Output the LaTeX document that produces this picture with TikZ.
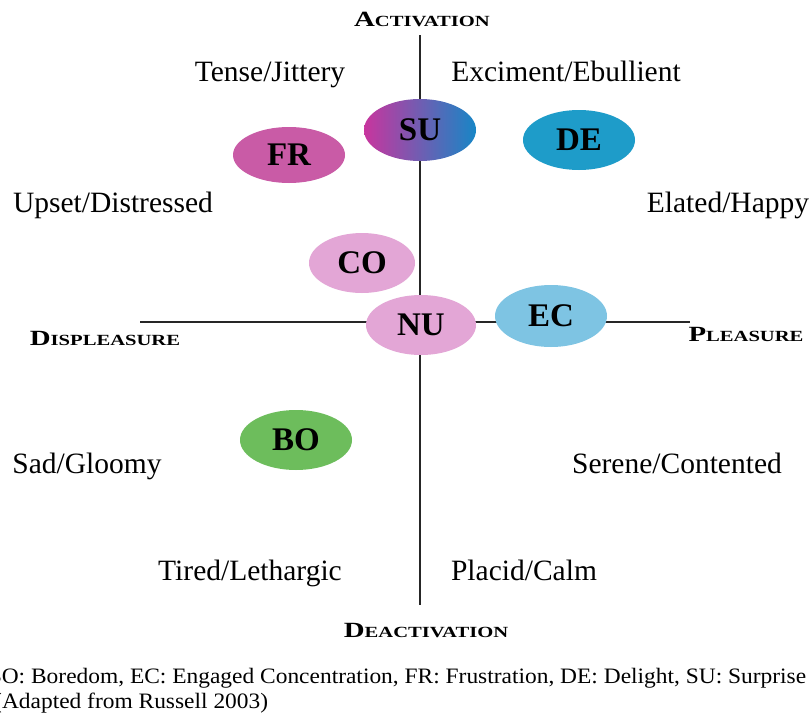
\documentclass[tikz,border=0pt]{standalone}
\usepackage{fontspec}
\setmainfont{Liberation Serif}
\usetikzlibrary{shapes.geometric}
\definecolor{frcol}{HTML}{C95BA6}
\definecolor{decol}{HTML}{1E9CC9}
\definecolor{pinkcol}{HTML}{E3A6D6}
\definecolor{eccol}{HTML}{7EC4E3}
\definecolor{bocol}{HTML}{6DBD5C}
\definecolor{sul}{HTML}{C8359E}
\definecolor{sur}{HTML}{1786C6}
\newcommand\fakesc[2]{\scalebox{1.33}[1]{{\fontsize{21.7}{21.7}\selectfont #1}{\fontsize{15.5}{15.5}\selectfont #2}}}
\begin{document}
\begin{tikzpicture}[x=1pt,y=-1pt,
  emo/.style={ellipse, minimum width=112pt, minimum height=60pt, inner sep=0pt,
    font=\fontsize{33}{33}\selectfont\bfseries},
  lab/.style={anchor=base, inner sep=0pt, font=\fontsize{29.5}{29.5}\selectfont},
  axlab/.style={anchor=base, inner sep=0pt, font=\bfseries},
  axisline/.style={line width=1.5pt, black!85},
  captext/.style={anchor=base west, inner sep=0pt, font=\fontsize{22}{22}\selectfont}]
\useasboundingbox (0,0) rectangle (811,720);
\fill[white] (0,0) rectangle (811,720);
% axes
\coordinate (top) at (420,35);
\coordinate (bottom) at (420,605);
\coordinate (left) at (140,322);
\coordinate (right) at (690,322);
\draw[axisline] (top) -- (bottom);
\draw[axisline] (left) -- (right);
% ellipses
\node[emo, left color=sul, right color=sur, minimum height=62pt] (SU) at (420,130) {SU};
\node[emo, fill=frcol, minimum height=56pt] (FR) at (289,155) {FR};
\node[emo, fill=decol] (DE) at (579,140) {DE};
\node[emo, fill=pinkcol, minimum width=106pt] (CO) at (362,263) {CO};
\node[emo, fill=pinkcol, minimum width=110pt] (NU) at (421,325) {NU};
\node[emo, fill=eccol, minimum height=62pt] (EC) at (551,316) {EC};
\node[emo, fill=bocol] (BO) at (296,440) {BO};
% axis labels
\node[axlab] (act) at (422,27) {\fakesc{A}{CTIVATION}};
\node[axlab] (deact) at (426,637) {\fakesc{D}{EACTIVATION}};
\node[axlab] (displ) at (105,345) {\fakesc{D}{ISPLEASURE}};
\node[axlab] (pleas) at (746,341) {\fakesc{P}{LEASURE}};
% quadrant labels
\node[lab] (tense) at (270,81) {Tense/Jittery};
\node[lab] (excit) at (566,81) {Exciment/Ebullient};
\node[lab] (upset) at (113,212) {Upset/Distressed};
\node[lab] (elated) at (728,212) {Elated/Happy};
\node[lab] (sad) at (87,473) {Sad/Gloomy};
\node[lab] (serene) at (677,473) {Serene/Contented};
\node[lab] (tired) at (250,580) {Tired/Lethargic};
\node[lab] (placid) at (524,580) {Placid/Calm};
% caption
\node[captext] (cap1) at (-14,683) {\scalebox{1.065}[1]{BO: Boredom, EC: Engaged Concentration, FR: Frustration, DE: Delight, SU: Surprise}};
\node[captext] (cap2) at (-6,708) {\scalebox{1.065}[1]{(Adapted from Russell 2003)}};
\end{tikzpicture}
\end{document}
